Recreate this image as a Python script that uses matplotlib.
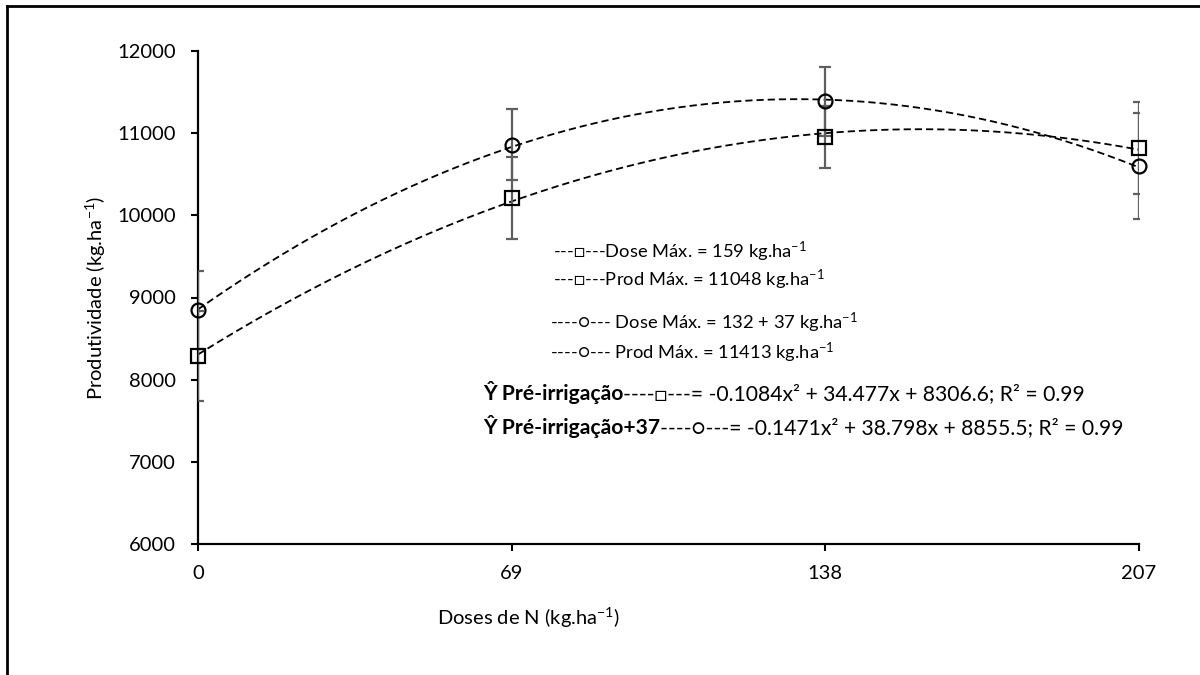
import numpy as np
import matplotlib
matplotlib.use('Agg')
import matplotlib.pyplot as plt
from matplotlib.lines import Line2D

plt.rcParams['font.family'] = ['Lato', 'DejaVu Sans']
plt.rcParams['mathtext.fontset'] = 'custom'
plt.rcParams['mathtext.rm'] = 'Lato'
plt.rcParams['mathtext.default'] = 'regular'
plt.rcParams['mathtext.fallback'] = 'stixsans'

# N doses (kg/ha)
doses = [0, 69, 138, 207]

# Pré-irrigação (squares)
prod_pre = [8285, 10210, 10950, 10820]
err_pre = [545, 495, 380, 560]
coef_pre = [-0.1084, 34.477, 8306.6]

# Pré-irrigação+37 (circles)
prod_pre37 = [8845, 10860, 11390, 10600]
err_pre37 = [475, 435, 420, 640]
coef_pre37 = [-0.1471, 38.798, 8855.5]

W, H = 1200, 675


def px(x, y):
    # pixel position -> figure fraction
    return x / W, 1 - y / H


fig = plt.figure(figsize=(12, 6.75), dpi=100)
ax = fig.add_axes([198 / W, 1 - 544 / H, (1139 - 198) / W, (544 - 51) / H])

# trend lines from the regression equations
xs = np.linspace(doses[0], doses[-1], 200)
dash = (0, (4, 2.2))
ax.plot(xs, np.polyval(coef_pre, xs), color='black', lw=1.3, linestyle=dash, zorder=2)
ax.plot(xs, np.polyval(coef_pre37, xs), color='black', lw=1.3, linestyle=dash, zorder=2)

# error bars
ax.errorbar(doses, prod_pre, yerr=err_pre, fmt='none', ecolor='#5f5f5f',
            elinewidth=1.6, capsize=4.5, capthick=1.6, zorder=3)
ax.errorbar(doses, prod_pre37, yerr=err_pre37, fmt='none', ecolor='#5f5f5f',
            elinewidth=1.6, capsize=4.5, capthick=1.6, zorder=3)

# markers
ax.plot(doses, prod_pre, linestyle='none', marker='s', ms=10, mfc='none',
        mec='black', mew=1.6, clip_on=False, zorder=4)
ax.plot(doses, prod_pre37, linestyle='none', marker='o', ms=10, mfc='none',
        mec='black', mew=1.6, clip_on=False, zorder=4)

ax.set_xlim(0, 207)
ax.set_ylim(6000, 12000)
ax.set_xticks(doses)
ax.set_yticks(np.arange(6000, 12001, 1000))
ax.tick_params(direction='out', length=5, width=1.5, labelsize=14.5)
ax.tick_params(axis='y', pad=11)
ax.tick_params(axis='x', pad=10)

for s in ['top', 'right']:
    ax.spines[s].set_visible(False)
for s in ['left', 'bottom']:
    ax.spines[s].set_linewidth(1.6)

ax.set_xlabel('Doses de N (kg.ha$^{-1}$)', fontsize=14.5)
ax.set_ylabel('Produtividade (kg.ha$^{-1}$)', fontsize=14.5)
ax.xaxis.set_label_coords((528 - 198) / 941, -(606 - 544) / 493)
ax.yaxis.set_label_coords(-(198 - 108) / 941, 0.5)

# annotations
fs_small = 13.2
fs = 15.2
fig.text(*px(553, 252), '---□---Dose Máx. = 159 kg.ha$^{-1}$', fontsize=fs_small, va='center')
fig.text(*px(553, 280), '---□---Prod Máx. = 11048 kg.ha$^{-1}$', fontsize=fs_small, va='center')
fig.text(*px(550, 323), '----○--- Dose Máx. = 132 + 37 kg.ha$^{-1}$', fontsize=fs_small, va='center')
fig.text(*px(550, 353), '----○--- Prod Máx. = 11413 kg.ha$^{-1}$', fontsize=fs_small, va='center')

t5 = fig.text(*px(483, 393), 'Ŷ Pré-irrigação', fontsize=fs, fontweight='bold', va='center')
ax.annotate('----□---= -0.1084x² + 34.477x + 8306.6; R² = 0.99', xy=(1, 0),
            xycoords=t5, va='bottom', ha='left', fontsize=fs, annotation_clip=False)

t6 = fig.text(*px(483, 427), 'Ŷ Pré-irrigação+37', fontsize=fs, fontweight='bold', va='center')
ax.annotate('----○---= -0.1471x² + 38.798x + 8855.5; R² = 0.99', xy=(1, 0),
            xycoords=t6, va='bottom', ha='left', fontsize=fs, annotation_clip=False)

# outer frame (left and top edges)
fig.add_artist(Line2D([7 / W, 7 / W], [0, 1 - 6 / H], color='black', lw=2))
fig.add_artist(Line2D([7 / W, 1], [1 - 6 / H, 1 - 6 / H], color='black', lw=2))

fig.savefig('out.png', dpi=100)
